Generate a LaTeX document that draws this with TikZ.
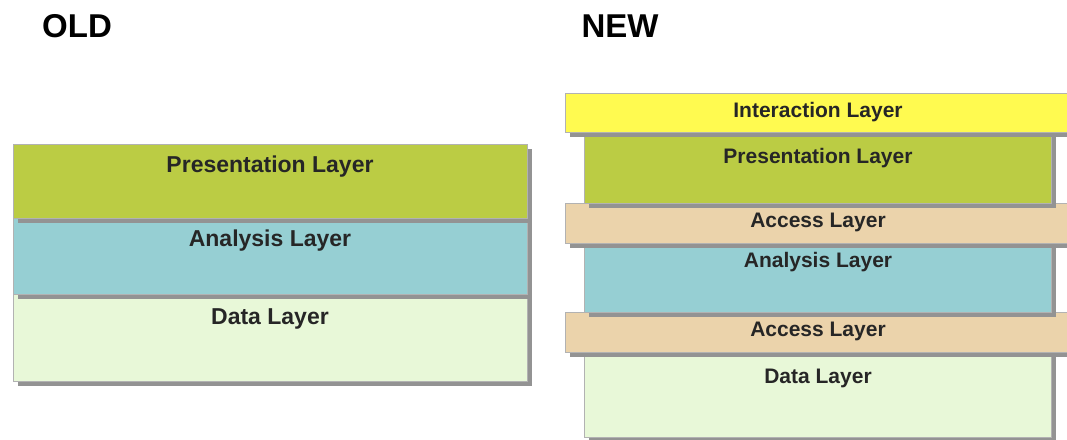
\documentclass[tikz,border=0pt]{standalone}
\usepackage{fontspec}
\setmainfont{Liberation Sans}
\usetikzlibrary{positioning,shadows}

\definecolor{presgreen}{RGB}{187,204,68}
\definecolor{anateal}{RGB}{150,207,211}
\definecolor{datagreen}{RGB}{232,248,216}
\definecolor{interyellow}{RGB}{255,250,80}
\definecolor{accesstan}{RGB}{235,211,171}

\begin{document}
\begin{tikzpicture}[x=1pt,y=-1pt,
  node distance=0pt,
  layer/.style={draw=gray!60,line width=0.7pt,inner sep=0pt,outer sep=0pt,
    drop shadow={shadow xshift=4.5pt,shadow yshift=-4.5pt,fill=gray!85,opacity=1}},
  oldbox/.style={layer,minimum width=514pt},
  newbox/.style={layer,minimum width=467pt},
  widebox/.style={layer,minimum width=506pt},
  title/.style={font=\bfseries\fontsize{33}{36}\selectfont,anchor=base},
  oldtxt/.style={font=\bfseries\fontsize{23}{26}\selectfont,text=black!85,anchor=base},
  newtxt/.style={font=\bfseries\fontsize{21}{24}\selectfont,text=black!85,anchor=base},
]
  \useasboundingbox[fill=white] (0,0) rectangle (1067,439);

  % titles
  \node[title] (oldtitle) at (77,37) {OLD};
  \node[title] (newtitle) at (620,37) {NEW};

  % old stack, bottom up
  \node[oldbox,fill=datagreen,minimum height=87pt,anchor=south west] (olddata)
    at (13,381) {};
  \node[oldbox,fill=anateal,minimum height=76pt,above=of olddata] (oldana) {};
  \node[oldbox,fill=presgreen,minimum height=74pt,above=of oldana] (oldpres) {};

  \node[oldtxt] (oldprestxt) at ([yshift=-28pt]oldpres.north) {Presentation Layer};
  \node[oldtxt] (oldanatxt) at ([yshift=-28pt]oldana.north) {Analysis Layer};
  \node[oldtxt] (olddatatxt) at ([yshift=-30pt]olddata.north) {Data Layer};

  % new stack, bottom up
  \node[newbox,fill=datagreen,minimum height=85pt,anchor=south] (newdata)
    at (818,437) {};
  \node[widebox,fill=accesstan,minimum height=40pt,above=of newdata] (access2) {};
  \node[newbox,fill=anateal,minimum height=69pt,above=of access2] (newana) {};
  \node[widebox,fill=accesstan,minimum height=40pt,above=of newana] (access1) {};
  \node[newbox,fill=presgreen,minimum height=71pt,above=of access1] (newpres) {};
  \node[widebox,fill=interyellow,minimum height=39pt,above=of newpres] (inter) {};

  \node[newtxt] (intertxt) at ([yshift=-24pt]inter.north) {Interaction Layer};
  \node[newtxt] (newprestxt) at ([yshift=-31pt]newpres.north) {Presentation Layer};
  \node[newtxt] (access1txt) at ([yshift=-24pt]access1.north) {Access Layer};
  \node[newtxt] (newanatxt) at ([yshift=-24pt]newana.north) {Analysis Layer};
  \node[newtxt] (access2txt) at ([yshift=-24pt]access2.north) {Access Layer};
  \node[newtxt] (newdatatxt) at ([yshift=-31pt]newdata.north) {Data Layer};
\end{tikzpicture}
\end{document}
